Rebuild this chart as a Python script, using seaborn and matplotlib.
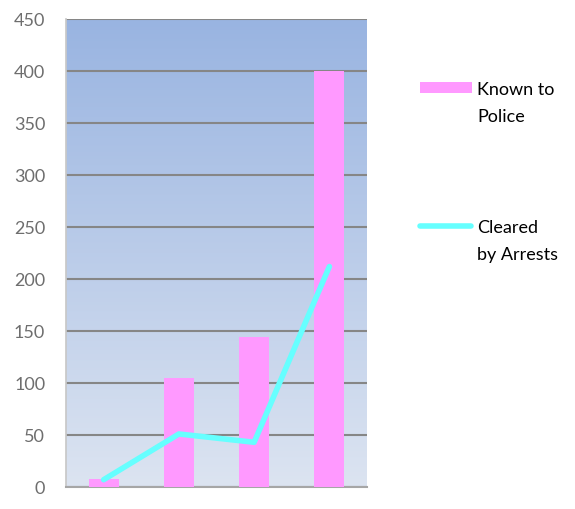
import numpy as np
import pandas as pd
import matplotlib
matplotlib.use("Agg")
import matplotlib.pyplot as plt
import seaborn as sns
from matplotlib.patches import Rectangle
from matplotlib.lines import Line2D
from matplotlib.colors import LinearSegmentedColormap

sns.set_theme(style="white")
plt.rcParams['font.family'] = ['Lato', 'DejaVu Sans']

# dados
categorias = ['1', '2', '3', '4']
conhecidos = [8, 105, 144, 400]
esclarecidos = [7, 51, 43, 212]
legenda = [['Known to', 'Police'], ['Cleared', 'by Arrests']]

df = pd.DataFrame({'cat': categorias, 'known': conhecidos,
                   'cleared': esclarecidos, 'pos': range(len(categorias))})

W, H = 575, 510
fig = plt.figure(figsize=(W / 100, H / 100), dpi=100)
ax = fig.add_axes([66 / W, 1 - 488 / H, 301 / W, 468 / H])

# fundo em gradiente
cmap = LinearSegmentedColormap.from_list('bg', ['#dce4f1', '#99b4e1'])
grad = np.linspace(0, 1, 256).reshape(-1, 1)
ax.imshow(grad, aspect='auto', cmap=cmap, origin='lower',
          extent=[0, 1, 0, 1], transform=ax.transAxes, zorder=0)

sns.barplot(data=df, x='cat', y='known', color='#ff99ff', saturation=1,
            width=0.4, ax=ax, zorder=3, linewidth=0, edgecolor='none')
sns.lineplot(data=df, x='pos', y='cleared', color='#66ffff', linewidth=4,
             ax=ax, zorder=4, solid_capstyle='round')

ax.set_xlim(-0.5, 3.5)
ax.set_ylim(0, 450)
ax.set_yticks(range(0, 451, 50))
ax.set_xticks([])
ax.set_xlabel('')
ax.set_ylabel('')
ax.yaxis.grid(True, color='#868686', linewidth=1.5, zorder=1)
for gl in ax.get_ygridlines():
    gl.set_zorder(1)
ax.tick_params(axis='y', labelsize=13, labelcolor='#6e6e6e', length=0, pad=15)
for s in ['top', 'right']:
    ax.spines[s].set_visible(False)
ax.spines['left'].set_color('#c8c8c8')
ax.spines['bottom'].set_color('#a6a6a6')
ax.spines['bottom'].set_linewidth(1.5)

# legenda manual (texto alinhado pelo topo como no original)
fy = lambda y: 1 - y / H
fig.add_artist(Rectangle((420 / W, fy(94)), 52 / W, 11 / H,
                         transform=fig.transFigure, facecolor='#ff99ff',
                         edgecolor='none'))
fig.add_artist(Line2D([420 / W, 471 / W], [fy(226.5), fy(226.5)],
                      transform=fig.transFigure, color='#66ffff', linewidth=4,
                      solid_capstyle='round'))
for (l1, l2), y0 in zip(legenda, [90, 228]):
    fig.text(477 / W, fy(y0), l1, fontsize=13, va='center', ha='left', color='black')
    fig.text(477 / W, fy(y0 + 27), l2, fontsize=13, va='center', ha='left', color='black')

plt.savefig('out.png', dpi=100)
plt.close()
